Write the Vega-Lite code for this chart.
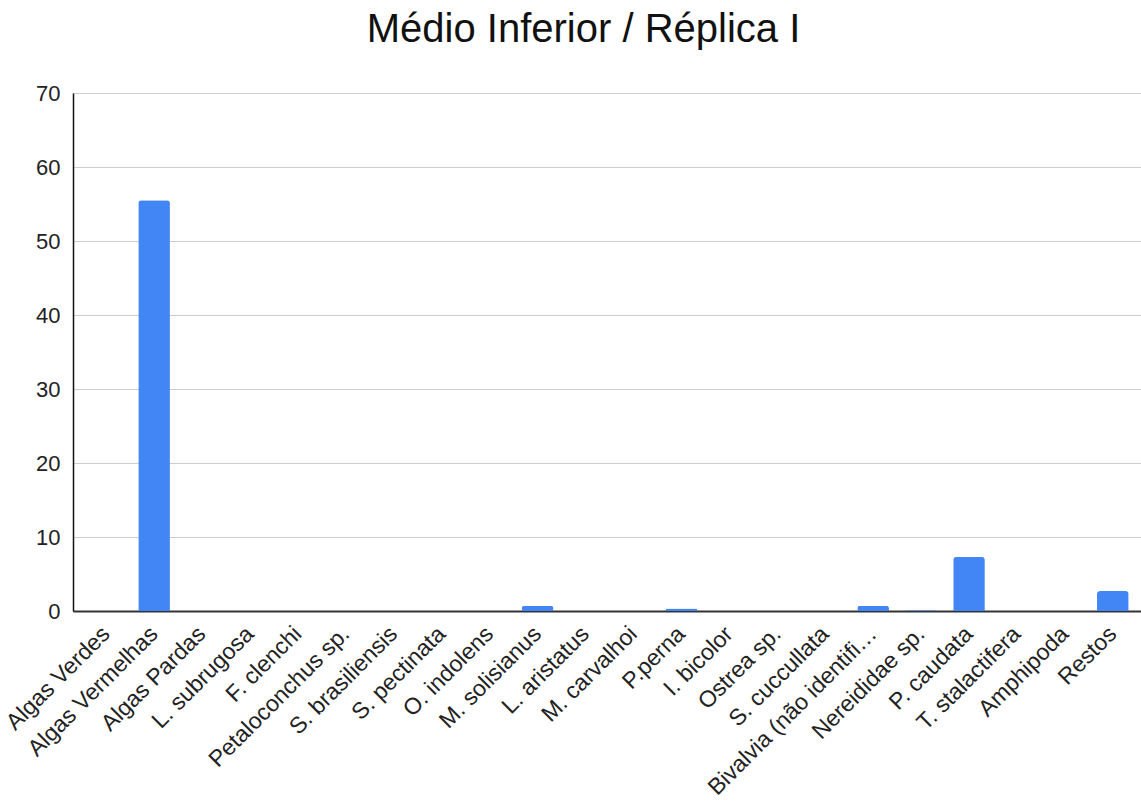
{
  "$schema": "https://vega.github.io/schema/vega-lite/v6.json",
  "autosize": "none",
  "width": 1073,
  "height": 518,
  "padding": {"left": 73, "top": 93, "right": -5, "bottom": 194},
  "background": "white",
  "title": {
    "text": "Médio Inferior / Réplica I",
    "font": "Liberation Sans",
    "fontSize": 40,
    "fontWeight": "normal",
    "color": "#111111",
    "anchor": "middle",
    "dx": -26,
    "offset": 32
  },
  "data": {
    "values": [
      {"categoria": "Algas Verdes", "valor": 0},
      {"categoria": "Algas Vermelhas", "valor": 55.5},
      {"categoria": "Algas Pardas", "valor": 0},
      {"categoria": "L. subrugosa", "valor": 0},
      {"categoria": "F. clenchi", "valor": 0},
      {"categoria": "Petaloconchus sp.", "valor": 0},
      {"categoria": "S. brasiliensis", "valor": 0},
      {"categoria": "S. pectinata", "valor": 0},
      {"categoria": "O. indolens", "valor": 0},
      {"categoria": "M. solisianus", "valor": 0.7},
      {"categoria": "L. aristatus", "valor": 0},
      {"categoria": "M. carvalhoi", "valor": 0},
      {"categoria": "P.perna", "valor": 0.35},
      {"categoria": "I. bicolor", "valor": 0},
      {"categoria": "Ostrea sp.", "valor": 0},
      {"categoria": "S. cuccullata", "valor": 0},
      {"categoria": "Bivalvia (não identificado)", "valor": 0.7},
      {"categoria": "Nereididae sp.", "valor": 0.1},
      {"categoria": "P. caudata", "valor": 7.3},
      {"categoria": "T. stalactifera", "valor": 0},
      {"categoria": "Amphipoda", "valor": 0},
      {"categoria": "Restos", "valor": 2.7}
    ]
  },
  "mark": {
    "type": "bar",
    "color": "#4285F4",
    "cornerRadiusTopLeft": 3,
    "cornerRadiusTopRight": 3
  },
  "encoding": {
    "x": {
      "field": "categoria",
      "type": "nominal",
      "sort": null,
      "scale": {"paddingInner": 0.34, "paddingOuter": 0.362},
      "axis": {
        "title": null,
        "labelAngle": -45,
        "labelAlign": "right",
        "labelBaseline": "middle",
        "labelFont": "Liberation Sans",
        "labelFontSize": 23,
        "labelColor": "#222222",
        "labelLimit": 230,
        "labelPadding": 19,
        "labelDy": 6,
        "ticks": false,
        "domainColor": "#333333",
        "domainWidth": 2,
        "grid": false
      }
    },
    "y": {
      "field": "valor",
      "type": "quantitative",
      "scale": {"domain": [0, 70], "nice": false},
      "axis": {
        "title": null,
        "values": [0, 10, 20, 30, 40, 50, 60, 70],
        "labelFont": "Liberation Sans",
        "labelFontSize": 22,
        "labelColor": "#222222",
        "labelPadding": 13,
        "ticks": false,
        "domainColor": "#111111",
        "domainWidth": 1.5,
        "gridColor": "#cccccc",
        "gridWidth": 1.2
      }
    }
  },
  "config": {"view": {"stroke": null}}
}
